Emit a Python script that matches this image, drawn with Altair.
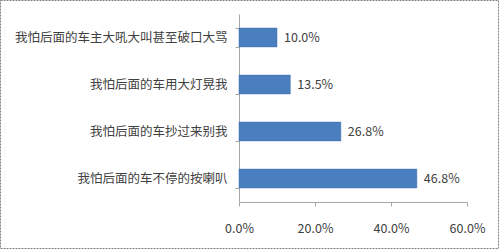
import altair as alt
import pandas as pd

categories = ["我怕后面的车主大吼大叫甚至破口大骂", "我怕后面的车用大灯晃我", "我怕后面的车抄过来别我", "我怕后面的车不停的按喇叭"]
values = [0.100, 0.135, 0.268, 0.468]
value_labels = ["10.0%", "13.5%", "26.8%", "46.8%"]
x_ticks = [0, 0.2, 0.4, 0.6]

df = pd.DataFrame({"cat": categories, "val": values, "lab": value_labels})

FONT = "Noto Sans CJK SC"

y_enc = alt.Y("cat:N", sort=categories, title=None,
              scale=alt.Scale(paddingInner=0.6, paddingOuter=0.3),
              axis=alt.Axis(tickBand="extent", labelFont=FONT, labelFontSize=12.5,
                            labelColor="#404040", labelPadding=8, tickSize=4,
                            tickColor="#a6a6a6", domainColor="#a6a6a6", labelLimit=300))
x_enc = alt.X("val:Q", title=None,
              scale=alt.Scale(domain=[0, 0.6], nice=False),
              axis=alt.Axis(values=x_ticks, format=".1%", grid=False, labelFont=FONT,
                            labelFontSize=12.5, labelColor="#404040", labelPadding=16,
                            labelFlush=False, tickSize=4, tickColor="#a6a6a6",
                            domainColor="#a6a6a6"))

bars = alt.Chart(df).mark_bar(color="#4a7ebf", stroke="#3d6fae", strokeWidth=0.5).encode(
    x=x_enc, y=y_enc)

text = alt.Chart(df).mark_text(align="left", dx=7, font=FONT, fontSize=12.5,
                               color="#404040").encode(
    x="val:Q", y=alt.Y("cat:N", sort=categories), text="lab:N")

border = alt.Chart(pd.DataFrame({"a": [0]})).mark_rect(
    fill=None, stroke="#7f7f7f", strokeWidth=1, strokeDash=[2, 1]).encode(
    x=alt.value(-238.5), x2=alt.value(259.5), y=alt.value(-13.5), y2=alt.value(234.5))

chart = alt.layer(border, bars, text).properties(
    width=228, height=188,
    autosize=alt.AutoSizeParams(type="none"),
    padding={"left": 239, "top": 14, "right": 33, "bottom": 48},
    background="white",
).configure_view(stroke=None)

chart.save("out.html", embed_options={"renderer": "svg", "actions": False})
